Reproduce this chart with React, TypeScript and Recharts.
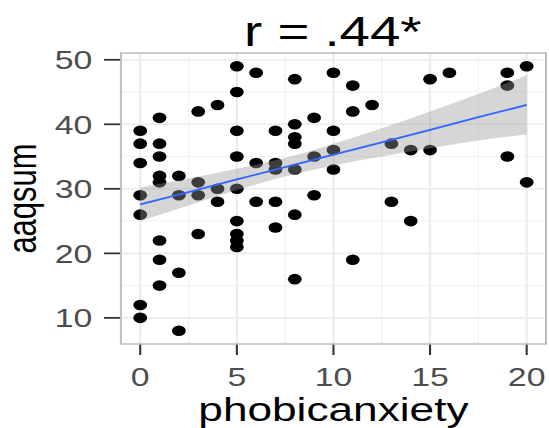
import { ComposedChart, Scatter, Area, Line, XAxis, YAxis, CartesianGrid, ReferenceArea, Label, Customized } from 'recharts'

const FONT = '"Liberation Sans", Arial, Helvetica, sans-serif'

// raw scores, one entry per participant
const anxiety = [
  0, 0, 0, 0, 0, 0, 0,
  1, 1, 1, 1, 1, 1, 1, 1,
  2, 2, 2, 2,
  3, 3, 3, 3,
  4, 4, 4,
  5, 5, 5, 5, 5, 5, 5, 5, 5,
  6, 6, 6,
  7, 7, 7, 7, 7,
  8, 8, 8, 8, 8, 8, 8,
  9, 9, 9,
  10, 10, 10, 10,
  11, 11, 11,
  12,
  13, 13,
  14, 14,
  15, 15,
  16,
  19, 19, 19,
  20, 20,
]
const aaq = [
  39, 37, 34, 29, 26, 12, 10,
  41, 37, 35, 32, 31, 22, 19, 15,
  32, 29, 17, 8,
  42, 31, 29, 23,
  43, 30, 28,
  49, 45, 39, 35, 30, 25, 23, 22, 21,
  48, 34, 28,
  39, 34, 33, 28, 24,
  47, 40, 38, 37, 33, 26, 16,
  41, 35, 29,
  48, 39, 36, 33,
  46, 42, 19,
  43,
  37, 28,
  36, 25,
  47, 36,
  48,
  48, 46, 35,
  49, 31,
]

// lm fit + 95% band as drawn
const fitX = [0, 2.5, 5, 7.5, 10, 12.5, 15, 17.5, 20]
const fitY = [27.6, 29.5, 31.45, 33.35, 35.3, 37.2, 39.15, 41.1, 43.0]
const bandLow = [25.0, 27.4, 29.8, 31.9, 33.6, 35.0, 36.3, 37.5, 38.4]
const bandHigh = [30.2, 31.6, 33.1, 34.8, 37.0, 39.4, 42.0, 44.7, 47.6]

const xTicks = [0, 5, 10, 15, 20]
const yTicks = [10, 20, 30, 40, 50]
const xMinor = [2.5, 7.5, 12.5, 17.5]
const yMinor = [15, 25, 35, 45]

const X_DOMAIN = [-1, 21]
const Y_DOMAIN = [5.95, 51.05]

const W = 422
const H = 428
const MARGIN = { top: 53, right: 2, bottom: 0, left: 0 }

const points = anxiety.map((x, i) => ({ x, y: aaq[i] }))
const fitData = fitX.map((x, i) => ({ x, fit: fitY[i], band: [bandLow[i], bandHigh[i]] }))

const Dot = (props: any) => <circle cx={props.cx} cy={props.cy} r={5.3} fill="#000" />

const Title = () => (
  <text x={256} y={46.5} textAnchor="middle" fontSize={42} fontFamily={FONT} fill="#000">
    r = .44*
  </text>
)

const YTitle = ({ viewBox }: any) => {
  const cy = viewBox.y + viewBox.height / 2
  const bx = viewBox.x + 28
  return (
    <text x={bx} y={cy} transform={`rotate(-90, ${bx}, ${cy})`} textAnchor="middle" fontSize={31} fontFamily={FONT} fill="#000">
      aaqsum
    </text>
  )
}

const tickStyle = { fontSize: 26, fill: '#4d4d4d', fontFamily: FONT }

// same axes in both layers so the plot area lines up; overlay hides its ticks
function axes(show: boolean) {
  return [
    <XAxis
      key="x"
      type="number"
      dataKey="x"
      domain={X_DOMAIN}
      ticks={xTicks}
      allowDataOverflow
      axisLine={false}
      tickLine={show ? { stroke: '#333', strokeWidth: 1.6 } : false}
      tickSize={11}
      tickMargin={13}
      tick={show ? tickStyle : false}
      height={84}
    >
      {show && <Label value="phobicanxiety" position="insideBottom" offset={7} fontSize={34} fontFamily={FONT} fill="#000" />}
    </XAxis>,
    <YAxis
      key="y"
      type="number"
      domain={Y_DOMAIN}
      ticks={yTicks}
      allowDataOverflow
      axisLine={false}
      tickLine={show ? { stroke: '#333', strokeWidth: 1.8 } : false}
      tickSize={13}
      tickMargin={9}
      tick={show ? tickStyle : false}
      width={93}
    >
      {show && <Label content={YTitle} />}
    </YAxis>,
  ]
}

const layer: React.CSSProperties = { position: 'absolute', left: 0, top: 0 }

export default function App() {
  return (
    <div
      style={{
        position: 'absolute',
        left: 0,
        top: 0,
        width: W,
        height: H,
        transform: 'scaleX(1.3)',
        transformOrigin: '0 0',
        background: '#fff',
      }}
    >
      {/* bottom layer: grid, axes, points */}
      <div style={layer}>
        <ComposedChart width={W} height={H} data={fitData} margin={MARGIN}>
          <CartesianGrid horizontalValues={yMinor} verticalValues={xMinor} stroke="#f2f2f2" strokeWidth={1} />
          <CartesianGrid horizontalValues={yTicks} verticalValues={xTicks} stroke="#ebebeb" strokeWidth={1.6} />
          {axes(true)}
          <Scatter data={points} dataKey="y" shape={Dot} isAnimationActive={false} />
          <Customized component={Title} />
        </ComposedChart>
      </div>
      {/* top layer: smoother band over the points, like geom_smooth */}
      <div style={layer}>
        <ComposedChart width={W} height={H} data={fitData} margin={MARGIN}>
          {axes(false)}
          <Area
            dataKey="band"
            type="monotone"
            stroke="none"
            fill="#999999"
            fillOpacity={0.4}
            isAnimationActive={false}
            activeDot={false}
          />
          <Line dataKey="fit" type="linear" stroke="#3366FF" strokeWidth={1.8} dot={false} activeDot={false} isAnimationActive={false} />
          <ReferenceArea
            x1={X_DOMAIN[0]}
            x2={X_DOMAIN[1]}
            y1={Y_DOMAIN[0]}
            y2={Y_DOMAIN[1]}
            fill="none"
            stroke="#bdbdbd"
            strokeWidth={1.5}
            ifOverflow="visible"
          />
        </ComposedChart>
      </div>
    </div>
  )
}
